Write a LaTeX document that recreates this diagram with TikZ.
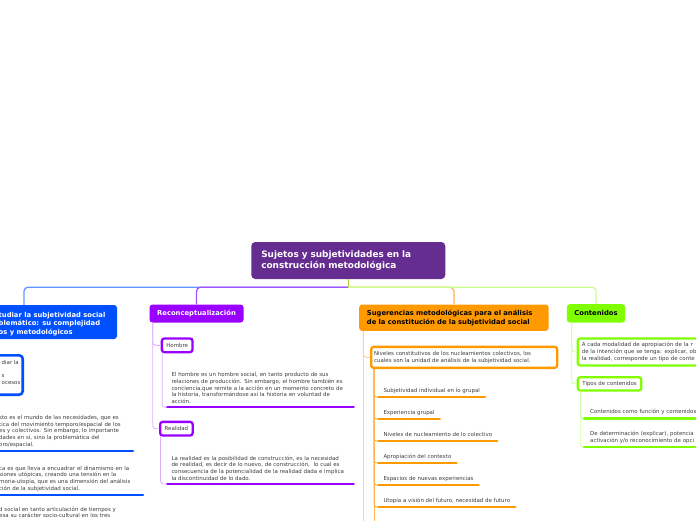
\documentclass[tikz,border=0pt]{standalone}
\usepackage{fontspec}
\setmainfont{DejaVu Sans}

\definecolor{rootpurple}{RGB}{102,45,145}
\definecolor{mapblue}{RGB}{0,80,255}
\definecolor{mappurple}{RGB}{153,0,255}
\definecolor{maporange}{RGB}{255,153,0}
\definecolor{mapgreen}{RGB}{128,255,0}
\definecolor{linkblue}{RGB}{100,150,255}
\definecolor{linkpurple}{RGB}{160,80,255}
\definecolor{linkorange}{RGB}{255,180,80}
\definecolor{linkgreen}{RGB}{200,255,140}
\definecolor{stem}{RGB}{180,210,50}
\definecolor{twigpurple}{RGB}{222,175,255}
\definecolor{twigorange}{RGB}{255,210,150}
\definecolor{twiggreen}{RGB}{205,255,160}
\definecolor{bodytext}{RGB}{60,60,60}

\begin{document}
\begin{tikzpicture}[
  x=1pt, y=-1pt,
  every node/.style={font=\fontsize{5.45}{6.7}\selectfont, text=bodytext},
  topic/.style={rounded corners=3pt, inner xsep=7.5pt, inner ysep=0pt, align=left,
    font=\fontsize{6.8}{8.7}\selectfont\bfseries},
  tag/.style={draw, line width=2.3pt, rounded corners=2.5pt, fill=white,
    inner xsep=4.5pt, inner ysep=2pt, minimum height=13.5pt, align=left},
  leaf/.style={inner xsep=5pt, inner ysep=3.5pt, align=left, anchor=south west},
  oneline/.style={text height=4.1pt, text depth=1.3pt},
  link/.style={line width=1.3pt, rounded corners=4pt},
  twig/.style={line width=0.9pt, rounded corners=3pt},
  uline/.style={line width=2.3pt, line cap=round}
]
  \useasboundingbox (0,0) rectangle (696,520);
  \clip (0,0) rectangle (696,520);

  % central topic
  \node[topic, fill=rootpurple, text=white, font=\fontsize{8.9}{10.7}\selectfont\bfseries,
    text width=174pt, inner xsep=10pt, minimum height=37pt, rounded corners=4pt]
    (root) at (348.3,260.5) {Sujetos y subjetividades en la\\construcción metodológica};
  \coordinate (hub) at ([yshift=-8pt]root.south);

  % main topics
  \node[topic, fill=mapblue, minimum width=186pt, minimum height=34pt] (estudiar) at (24,322) {};
  \node[anchor=north west, inner sep=0pt, align=left, text=white,
    font=\fontsize{6.8}{8.7}\selectfont\bfseries] (estudiartxt) at (-1.5,311.7)
    {tudiar la subjetividad social\\blemático: su complejidad\\os y metodológicos};
  \node[topic, fill=mappurple, text=white, anchor=north west, minimum width=94pt,
    minimum height=18pt] (reconc) at (149.3,304.3) {Reconceptualización};
  \node[topic, fill=maporange, text=black, anchor=north west, text width=174pt,
    inner xsep=7.7pt, minimum height=26.4pt] (suger) at (359,304.3)
    {Sugerencias metodológicas para el análisis\\de la constitución de la subjetividad social};
  \node[topic, fill=mapgreen, text=black, anchor=north west, minimum width=58.3pt,
    minimum height=18.3pt] (conten) at (566.7,304) {Contenidos};

  \draw[link, linkblue] (hub) -| (estudiar.north);
  \draw[link, linkpurple] (hub) -| (reconc.north);
  \draw[link, linkorange] (hub) -| (suger.north);
  \draw[link, linkgreen] (hub) -| (conten.north);
  \draw[link, stem] (root.south) -- (hub);

  % estudiar
  \node[tag, draw=mapblue, line width=2.6pt, rounded corners=3.5pt, minimum width=124pt,
    minimum height=39.4pt] (pasos) at (-39.3,375) {};
  \node[anchor=north west, inner sep=0pt, align=left] (pasostxt) at (1.5,360.1)
    {diar la\\\mbox{}\\s\\ocesos};
  \node[leaf, text width=128.7pt] (contexto) at (-6,451)
    {sto es el mundo de las necesidades, que es\\tica del movimiento temporo/espacial de los\\es y colectivos. Sin embargo, lo importante\\dades en sí, sino la problemática del\\oro/espacial.};
  \node[leaf, text width=138.7pt] (utopia) at (-6,495)
    {ca es que lleva a encuadrar el dinamismo en la\\siones utópicas, creando una tensión en la\\moria-utopía, que es una dimensión del análisis\\ción de la subjetividad social.};
  \node[leaf, text width=138pt] (tiempos) at (-6,521.5)
    {d social en tanto articulación de tiempos y\\esa su carácter socio-cultural en los tres};
  \draw[uline, mapblue] (contexto.south west) -- (contexto.south east);
  \draw[uline, mapblue] (utopia.south west) -- (utopia.south east);

  % reconceptualizacion
  \node[tag, draw=mappurple, anchor=north west, minimum width=30.3pt, minimum height=13.7pt]
    (hombre) at (160.7,337.3) {Hombre};
  \node[tag, draw=mappurple, anchor=north west, minimum height=13.7pt]
    (realidad) at (159,420.7) {Realidad};
  \draw[twig, twigpurple] ([xshift=3.4pt]reconc.south west) |- (hombre.west);
  \draw[twig, twigpurple] ([xshift=3.4pt]reconc.south west) |- (realidad.west);

  \node[leaf, text width=178pt, inner xsep=4pt] (hombretxt) at (167.3,407.3)
    {El hombre es un hombre social, en tanto producto de sus\\relaciones de producción. Sin embargo, el hombre también es\\conciencia,que remite a la acción en un momento concreto de\\la historia, transformándose así la historia en voluntad de\\acción.};
  \node[leaf, text width=178pt, inner xsep=4pt] (realidadtxt) at (167.3,484)
    {La realidad es la posibilidad de construcción, es la necesidad\\de realidad, es decir de lo nuevo, de construcción,\ \ lo cual es\\consecuencia de la potencialidad de la realidad dada e implica\\la discontinuidad de lo dado.};
  \draw[twig, twigpurple] ([xshift=1.5pt]hombre.south west) |- (hombretxt.south west);
  \draw[twig, twigpurple] ([xshift=1.5pt]realidad.south west) |- (realidadtxt.south west);
  \draw[uline, mappurple] (hombretxt.south west) -- (hombretxt.south east);
  \draw[uline, mappurple] (realidadtxt.south west) -- (realidadtxt.south east);

  % sugerencias
  \node[tag, draw=maporange, anchor=north west, text width=180pt, inner xsep=3pt,
    minimum height=21pt] (niveles) at (370,345.7)
    {Niveles constitutivos de los nucleamientos colectivos, los\\cuales son la unidad de análisis de la subjetividad social.};
  \coordinate (sugmore) at (363.3,530);
  \coordinate (nivmore) at (374,530);
  \draw[twig, twigorange] ([xshift=4.3pt]suger.south west) |- (niveles.west);
  \draw[twig, twigorange] ([xshift=4.3pt]suger.south west) -- (sugmore);
  \draw[twig, linkorange] ([xshift=4pt]niveles.south west) -- (nivmore);
  \foreach \txt [count=\i] in {Subjetividad individual en lo grupal, Experiencia grupal,
      Niveles de nucleamiento de lo colectivo, Apropiación del contexto,
      Espacios de nuevas experiencias, {Utopía a visión del futuro, necesidad de futuro}} {
    \node[leaf, oneline] (nivel\i) at (378.3,{397+22*(\i-1)}) {\txt};
    \draw[twig, linkorange] ([xshift=4pt]niveles.south west) |- (nivel\i.south west);
    \draw[uline, maporange] (nivel\i.south west) -- (nivel\i.south east);
  }

  % contenidos
  \node[tag, draw=mapgreen, anchor=north west, text width=200pt, inner xsep=4pt,
    minimum height=27.1pt] (modal) at (576.7,337.3)
    {A cada modalidad de apropiación de la r\\de la intención que se tenga: explicar, ob\\la realidad, corresponde un tipo de conte};
  \node[tag, draw=mapgreen, anchor=north west, minimum height=13.4pt]
    (tipos) at (576.7,376) {Tipos de contenidos};
  \draw[twig, twiggreen] ([xshift=5pt]conten.south west) |- (modal.west);
  \draw[twig, twiggreen] ([xshift=5pt]conten.south west) |- (tipos.west);

  \node[leaf, oneline, text width=200pt, inner xsep=6pt] (funcion) at (584,418.5)
    {Contenidos como función y contenidos};
  \node[leaf, text width=200pt, inner xsep=6pt] (determ) at (584,447)
    {De determinación (explicar), potencia\\activación y/o reconocimiento de opci};
  \draw[twig, twiggreen] ([xshift=4pt]tipos.south west) |- (funcion.south west);
  \draw[twig, twiggreen] ([xshift=4pt]tipos.south west) |- (determ.south west);
  \draw[uline, mapgreen] (funcion.south west) -- (funcion.south east);
  \draw[uline, mapgreen] (determ.south west) -- (determ.south east);
\end{tikzpicture}
\end{document}
